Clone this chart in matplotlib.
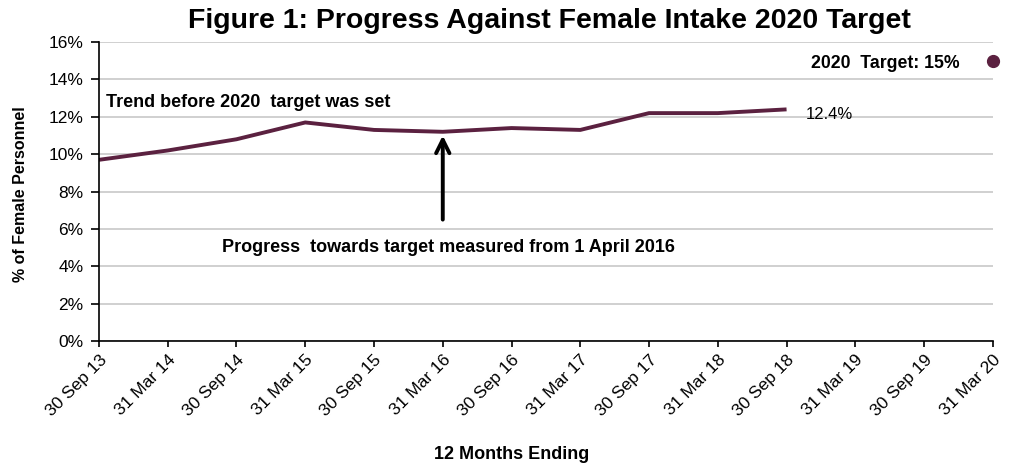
import numpy as np
import matplotlib.pyplot as plt

plt.rcParams['font.family'] = ['Liberation Sans', 'DejaVu Sans']

periods = ['30 Sep 13', '31 Mar 14', '30 Sep 14', '31 Mar 15', '30 Sep 15',
           '31 Mar 16', '30 Sep 16', '31 Mar 17', '30 Sep 17', '31 Mar 18',
           '30 Sep 18', '31 Mar 19', '30 Sep 19', '31 Mar 20']
female_pct = [9.7, 10.2, 10.8, 11.7, 11.3, 11.2, 11.4, 11.3, 12.2, 12.2, 12.4]
target_period = '31 Mar 20'
target_pct = 15.0
start_period = '31 Mar 16'

maroon = '#5b2140'
x = np.arange(len(periods))

fig = plt.figure(figsize=(10.10, 4.63), dpi=100)
ax = fig.add_axes([0.098, 0.2635, 0.885, 0.6455])

ax.plot(x[:len(female_pct)], female_pct, color=maroon, lw=2.8, solid_capstyle='butt')
ti = periods.index(target_period)
ax.plot([ti], [target_pct], 'o', color=maroon, ms=8.5, clip_on=False)

ax.set_xlim(0, len(periods) - 1)
ax.set_ylim(0, 16)
ax.set_yticks(np.arange(0, 17, 2))
ax.set_yticklabels([f'{v}%' for v in range(0, 17, 2)], fontsize=12.5)
ax.set_xticks(x)
ax.set_xticklabels(periods, rotation=45, ha='right', rotation_mode='anchor', fontsize=12.5)
ax.tick_params(axis='y', direction='out', length=6, width=1.2, color='black', pad=5)
ax.tick_params(axis='x', direction='out', length=4, width=1.2, color='black', pad=4)
ax.grid(axis='y', color='#c8c8c8', lw=1.2)
ax.set_axisbelow(True)
for s in ['top', 'right']:
    ax.spines[s].set_visible(False)
for s in ['left', 'bottom']:
    ax.spines[s].set_linewidth(1.2)

ax.set_ylabel('% of Female Personnel', fontsize=11.5, fontweight='bold')
ax.yaxis.set_label_coords(-0.079, 0.49)
ax.set_xlabel('12 Months Ending', fontsize=13, fontweight='bold')
ax.xaxis.set_label_coords(0.462, -0.35)
fig.text(0.544, 0.955, 'Figure 1: Progress Against Female Intake 2020 Target',
         ha='center', va='center', fontsize=20.5, fontweight='bold')

ax.text(0.1, 12.75, 'Trend before 2020  target was set', fontsize=13, fontweight='bold',
        va='center', ha='left')
ax.text(12.52, 14.87, '2020  Target: 15%', fontsize=12.7, fontweight='bold', va='center', ha='right')
ax.text(10.28, 12.1, f'{female_pct[-1]}%', fontsize=12, va='center', ha='left')

si = periods.index(start_period)
ax.annotate('', xy=(si, female_pct[si] - 0.05), xytext=(si, 6.35),
            arrowprops=dict(arrowstyle='->', color='black', lw=2.8, mutation_scale=24))
ax.text(1.79, 4.98, 'Progress  towards target measured from 1 April 2016', fontsize=13,
        fontweight='bold', va='center', ha='left')

fig.savefig('out.png', dpi=100)
